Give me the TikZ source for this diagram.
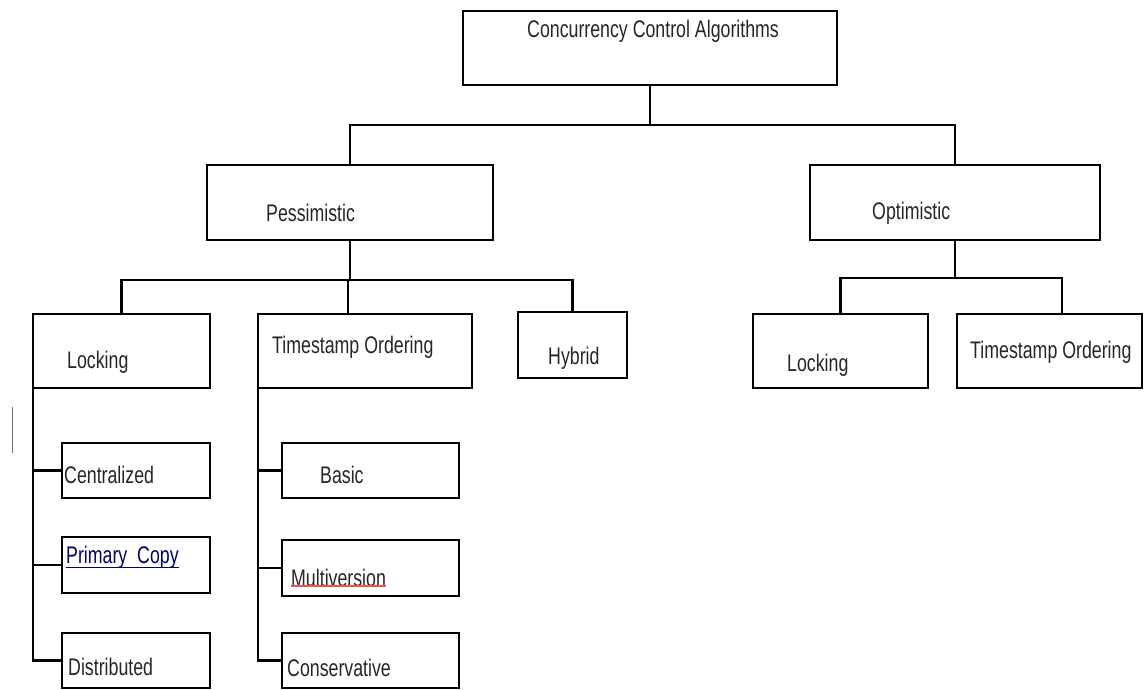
\documentclass[tikz,border=0pt]{standalone}
\usepackage{fontspec}
\setmainfont{Liberation Sans}[FakeStretch=0.74]
\begin{document}
\begin{tikzpicture}[x=1pt,y=-1pt,
  box/.style={draw=black, line width=2.6pt, inner sep=0pt, outer sep=0pt},
  conn/.style={draw=black, line width=2.3pt},
  txt/.style={anchor=west, inner sep=0pt, font=\fontsize{24}{27}\selectfont, text=black!85}]
\useasboundingbox (0,0) rectangle (1145,690);
\newcommand\bx[5]{\node[box, minimum width={#4-#2}, minimum height={#5-#3}] (#1) at ({(#2+#4)/2},{(#3+#5)/2}) {};}
% boxes
\bx{root}{463}{11}{837}{85}
\bx{pess}{207}{165}{493}{240}
\bx{opt}{810}{165}{1100}{240}
\bx{lock}{33}{314}{210}{388}
\bx{ts}{258}{314}{472}{388}
\bx{hyb}{518}{312}{627}{378}
\bx{olock}{753}{314}{928}{388}
\bx{ots}{957}{314}{1142}{388}
\bx{cent}{62}{443}{210}{498}
\bx{prim}{62}{537}{210}{593}
\bx{dist}{62}{633}{210}{688}
\bx{basic}{282}{443}{459}{498}
\bx{multi}{282}{540}{459}{596}
\bx{cons}{282}{633}{459}{688}
% texts
\node[txt] (rootT) at (527,31) {Concurrency Control Algorithms};
\node[txt] (pessT) at (266,213) {Pessimistic};
\node[txt] (optT) at (872,213) {Optimistic};
\node[txt] (lockT) at (67,362) {Locking};
\node[txt] (tsT) at (272,347) {Timestamp Ordering};
\node[txt] (hybT) at (548,358) {Hybrid};
\node[txt] (olockT) at (787,365) {Locking};
\node[txt] (otsT) at (970,352) {Timestamp Ordering};
\node[txt] (centT) at (64,475) {Centralized};
\node[txt, text=blue!45!black] (primT) at (66,557) {Primary\ \ Copy};
\node[txt] (distT) at (68,667) {Distributed};
\node[txt] (basicT) at (320,475) {Basic};
\node[txt] (multiT) at (291,578) {Multiversion};
\node[txt] (consT) at (287,668) {Conservative};
\draw[blue!45!black, line width=1pt] ([yshift=1pt]primT.south west) -- ([yshift=1pt]primT.south east);
\draw[red!70, line width=1.2pt] ([yshift=1pt]multiT.south west) -- ([yshift=1pt]multiT.south east);
% connectors
\coordinate (j1) at (650,125);
\coordinate (j2) at (348,280);
\coordinate (j3) at (955,278);
\coordinate (k3) at (1062,278);
\draw[conn] (root.south) -- (j1);
\draw[conn] (pess.north) |- (j1) -| (opt.north);
\draw[conn] (pess.south) -- (pess.south |- j2);
\draw[conn] (lock.north) |- (j2) -| (hyb.north);
\draw[conn] (j2) -- (j2 |- ts.north);
\draw[conn] (opt.south) -- (j3);
\draw[conn] (olock.north) |- (k3) -- (k3 |- ots.north);
\draw[conn] (lock.south west) |- (dist.west);
\draw[conn] (cent.west) -- (cent.west -| lock.south west);
\draw[conn] (prim.west) -- (prim.west -| lock.south west);
\draw[conn] (ts.south west) |- (cons.west);
\draw[conn] (basic.west) -- (basic.west -| ts.south west);
\draw[conn] (multi.west) -- (multi.west -| ts.south west);
% stray mark
\draw[black!55, line width=1pt] (12,407) -- (12,453);
\end{tikzpicture}
\end{document}
